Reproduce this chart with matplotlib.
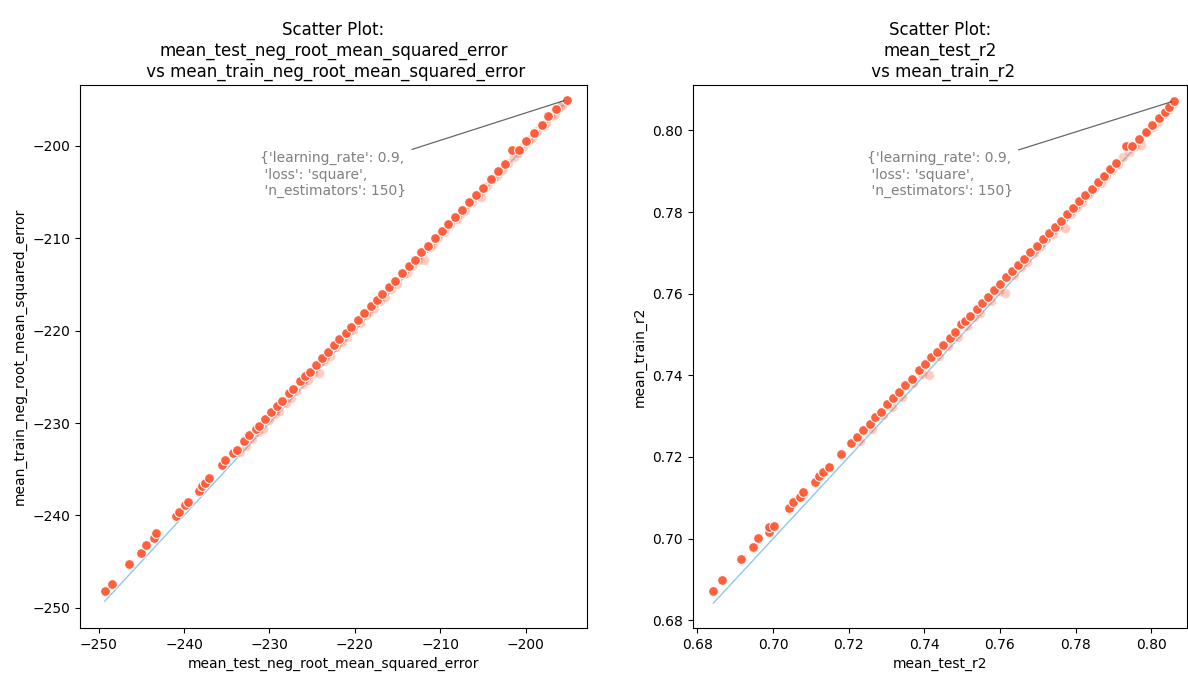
import numpy as np
import matplotlib
matplotlib.use("Agg")
import matplotlib.pyplot as plt

# best-fit points (solid) and the dense cloud close to the diagonal (faded)
rmse_test = [-249.3, -248.4, -246.4, -245.0, -244.5, -243.5, -243.3, -241.0, -240.6, -239.9,
             -239.6, -238.3, -237.9, -237.6, -237.1, -235.6, -235.2, -234.3, -233.8, -233.0,
             -232.4, -231.6, -231.2, -230.5, -229.8, -229.1, -228.5, -227.7, -227.2, -226.4,
             -225.8, -225.3, -224.6, -223.9, -223.1, -222.4, -221.8, -221.0, -220.4, -219.6,
             -218.9, -218.1, -217.4, -216.8, -216.0, -215.3, -214.5, -213.7, -213.0, -212.2,
             -211.4, -210.6, -209.8, -209.1, -208.3, -207.5, -206.6, -205.8, -205.0, -204.1,
             -203.2, -202.4, -201.6, -200.8, -199.9, -199.0, -198.1, -197.4, -196.4, -195.2]
rmse_train = [-248.2, -247.4, -245.3, -244.1, -243.2, -242.4, -241.9, -240.1, -239.6, -238.9,
              -238.5, -237.4, -236.8, -236.5, -236.0, -234.6, -234.0, -233.3, -232.9, -232.0,
              -231.3, -230.7, -230.3, -229.6, -228.8, -228.2, -227.6, -226.7, -226.3, -225.5,
              -224.9, -224.5, -223.7, -223.0, -222.3, -221.6, -220.9, -220.2, -219.6, -218.8,
              -218.1, -217.3, -216.7, -216.0, -215.3, -214.6, -213.8, -213.0, -212.4, -211.5,
              -210.8, -210.0, -209.2, -208.5, -207.7, -206.9, -206.1, -205.3, -204.5, -203.6,
              -202.7, -201.9, -200.4, -200.4, -199.5, -198.6, -197.7, -196.8, -196.0, -195.0]

rmse_test_faded = [-233.4, -232.7, -232.1, -231.3, -230.8, -230.0, -229.4, -228.9, -228.1, -227.5,
                   -226.9, -226.1, -225.5, -224.9, -224.2, -223.6, -222.9, -222.2, -221.5, -220.9,
                   -220.2, -219.4, -218.7, -218.3, -217.7, -217.1, -216.5, -215.8, -215.1, -214.3,
                   -213.9, -213.3, -212.6, -211.9, -211.2, -210.8, -210.2, -209.5, -208.8, -208.0,
                   -207.7, -207.1, -206.3, -205.6, -205.2, -204.5, -203.8, -203.4, -202.8, -202.1,
                   -201.4, -200.9, -200.3, -199.6, -199.2, -198.6, -198.0, -197.6, -197.0, -196.6,
                   -196.0, -195.7]
rmse_train_faded = [-233.1, -232.5, -231.7, -231.0, -230.7, -229.7, -229.0, -228.7, -227.8, -227.3,
                    -226.5, -225.8, -225.3, -224.6, -224.6, -223.3, -222.7, -221.8, -221.2, -220.7,
                    -219.9, -219.2, -218.3, -218.0, -217.5, -216.8, -216.4, -215.5, -214.9, -213.9,
                    -213.7, -213.0, -212.4, -212.4, -210.9, -210.6, -209.9, -209.3, -208.5, -207.9,
                    -207.4, -206.9, -206.1, -205.3, -205.5, -204.3, -203.5, -203.3, -202.6, -201.8,
                    -201.2, -200.8, -200.1, -199.3, -199.1, -198.4, -197.8, -197.5, -196.8, -196.5,
                    -195.8, -195.6]

r2_test = [0.6842, 0.6865, 0.6916, 0.6946, 0.6960, 0.6988, 0.6990, 0.7001, 0.7043, 0.7052,
           0.7071, 0.7079, 0.7110, 0.7121, 0.7132, 0.7148, 0.7180, 0.7205, 0.7221, 0.7238,
           0.7255, 0.7270, 0.7284, 0.7302, 0.7318, 0.7333, 0.7350, 0.7366, 0.7386, 0.7401,
           0.7418, 0.7433, 0.7450, 0.7467, 0.7482, 0.7498, 0.7507, 0.7521, 0.7538, 0.7553,
           0.7569, 0.7585, 0.7601, 0.7617, 0.7632, 0.7648, 0.7664, 0.7680, 0.7697, 0.7713,
           0.7729, 0.7745, 0.7761, 0.7778, 0.7794, 0.7810, 0.7826, 0.7842, 0.7858, 0.7875,
           0.7891, 0.7907, 0.7934, 0.7950, 0.7968, 0.7985, 0.8002, 0.8020, 0.8037, 0.8048,
           0.8060]
r2_train = [0.6872, 0.6898, 0.6950, 0.6980, 0.7002, 0.7017, 0.7029, 0.7032, 0.7076, 0.7090,
            0.7102, 0.7115, 0.7139, 0.7154, 0.7162, 0.7176, 0.7208, 0.7233, 0.7248, 0.7266,
            0.7281, 0.7298, 0.7311, 0.7330, 0.7345, 0.7360, 0.7376, 0.7392, 0.7412, 0.7427,
            0.7444, 0.7458, 0.7475, 0.7492, 0.7507, 0.7525, 0.7533, 0.7546, 0.7562, 0.7578,
            0.7593, 0.7608, 0.7624, 0.7640, 0.7655, 0.7670, 0.7686, 0.7701, 0.7717, 0.7733,
            0.7748, 0.7764, 0.7779, 0.7796, 0.7811, 0.7827, 0.7842, 0.7857, 0.7873, 0.7889,
            0.7905, 0.7920, 0.7961, 0.7962, 0.7980, 0.7996, 0.8013, 0.8030, 0.8046, 0.8057,
            0.8072]

r2_test_faded = [0.7230, 0.7262, 0.7291, 0.7315, 0.7342, 0.7371, 0.7395, 0.7412, 0.7440, 0.7463,
                 0.7489, 0.7512, 0.7530, 0.7548, 0.7575, 0.7597, 0.7612, 0.7638, 0.7655, 0.7672,
                 0.7691, 0.7708, 0.7722, 0.7740, 0.7756, 0.7771, 0.7789, 0.7803, 0.7818, 0.7835,
                 0.7850, 0.7866, 0.7880, 0.7897, 0.7912, 0.7925, 0.7940, 0.7956, 0.7972, 0.7988,
                 0.8003, 0.8017, 0.8031, 0.8044, 0.8055]
r2_train_faded = [0.7240, 0.7268, 0.7303, 0.7323, 0.7347, 0.7382, 0.7404, 0.7400, 0.7447, 0.7473,
                  0.7495, 0.7521, 0.7542, 0.7553, 0.7583, 0.7607, 0.7602, 0.7645, 0.7666, 0.7678,
                  0.7700, 0.7716, 0.7734, 0.7745, 0.7765, 0.7762, 0.7796, 0.7813, 0.7824, 0.7843,
                  0.7861, 0.7871, 0.7889, 0.7904, 0.7918, 0.7935, 0.7948, 0.7961, 0.7964, 0.7995,
                  0.8009, 0.8021, 0.8039, 0.8049, 0.8061]

best_params = "{'learning_rate': 0.9,\n 'loss': 'square',\n 'n_estimators': 150}"

panels = [
    ('mean_test_neg_root_mean_squared_error', 'mean_train_neg_root_mean_squared_error',
     rmse_test, rmse_train, rmse_test_faded, rmse_train_faded),
    ('mean_test_r2', 'mean_train_r2',
     r2_test, r2_train, r2_test_faded, r2_train_faded),
]

dot_color = '#FF5733'

fig = plt.figure(figsize=(11.88, 6.75), dpi=100)
ax_left = fig.add_axes([0.0673, 0.0696, 0.4268, 0.8044])
ax_right = fig.add_axes([0.5833, 0.0696, 0.4160, 0.8044])

for ax, (xname, yname, xs, ys, xf, yf) in zip([ax_left, ax_right], panels):
    lo, hi = min(xs), max(xs)
    ax.plot([lo, hi], [lo, hi], color='#8CC8EE', lw=1, zorder=1)
    ax.scatter(xf, yf, s=50, color=dot_color, alpha=0.3,
               edgecolor='white', linewidth=0.8, zorder=2)
    ax.scatter(xs, ys, s=50, color=dot_color, alpha=0.95,
               edgecolor='white', linewidth=0.8, zorder=3)

    # best combination sits at the top right
    best = int(np.argmax(ys))
    ax.annotate(best_params, xy=(xs[best], ys[best]), xycoords='data',
                xytext=(0.5, 0.835), textcoords='axes fraction',
                ha='center', va='center', multialignment='left',
                color='gray', fontsize=10,
                arrowprops=dict(arrowstyle='-', color='black', alpha=0.6, lw=0.9))

    ax.set_xlabel(xname)
    ax.set_ylabel(yname)
    ax.set_title('Scatter Plot:\n%s\n vs %s' % (xname, yname), fontsize=12)

ax_left.set_xlim(-252.2, -192.8)
ax_left.set_ylim(-252.2, -193.4)
ax_left.set_xticks([-250, -240, -230, -220, -210, -200])
ax_left.set_yticks([-250, -240, -230, -220, -210, -200])

ax_right.set_xlim(0.6788, 0.8095)
ax_right.set_ylim(0.6781, 0.8111)
ax_right.set_xticks([0.68, 0.70, 0.72, 0.74, 0.76, 0.78, 0.80])
ax_right.set_yticks([0.68, 0.70, 0.72, 0.74, 0.76, 0.78, 0.80])

fig.savefig('out.png', dpi=100)
